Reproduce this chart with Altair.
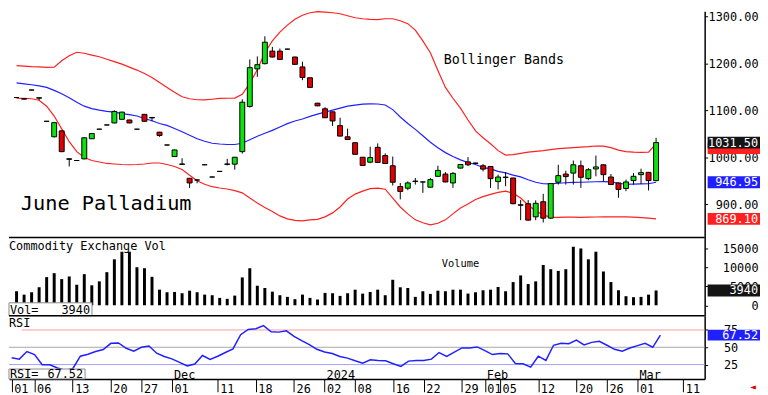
import altair as alt
import pandas as pd

# ---------------- data ----------------
opens = [1127.4, 1125.0, 1143.4, 1126.0, 1076.8, 1043.8, 1056.4, 997.0, 993.3, 996.8,
         1039.6, 1060.0, 1069.0, 1073.3, 1081.0, 1079.6, 1060.0, 1091.6, 1085.0, 1053.7,
         1026.3, 1001.7, 985.0, 955.4, 951.8, 984.2, 958.1, 970.1, 985.0, 985.5,
         1012.2, 1108.4, 1188.4, 1199.6, 1226.3, 1226.3, 1230.5, 1213.7, 1192.6, 1169.5,
         1115.4, 1103.4, 1097.0, 1067.6, 1043.8, 1031.2, 1000.2, 989.7, 1021.3, 1003.8,
         982.1, 937.9, 934.3, 948.5, 947.6, 936.4, 959.6, 964.4, 945.5, 977.1,
         990.3, 987.0, 982.1, 980.6, 948.4, 958.0, 956.0, 899.0, 901.3, 873.3,
         905.5, 870.5, 947.0, 964.4, 966.5, 982.1, 954.7, 975.4, 984.2, 958.1,
         945.5, 933.7, 950.5, 963.2, 968.0, 950.5]
highs = [1128.0, 1125.5, 1144.0, 1127.0, 1077.4, 1075.5, 1057.5, 997.5, 993.9, 1042.5,
         1051.5, 1060.6, 1069.6, 1100.0, 1097.0, 1080.2, 1060.6, 1092.2, 1085.4, 1054.3,
         1026.9, 1016.4, 998.1, 956.0, 952.8, 984.8, 958.7, 970.7, 996.8, 1001.0,
         1123.8, 1208.6, 1215.0, 1257.9, 1235.3, 1231.8, 1231.1, 1214.5, 1203.8, 1170.2,
         1116.0, 1106.9, 1097.6, 1084.4, 1061.3, 1031.8, 1000.8, 1022.7, 1029.7, 1008.6,
         1001.7, 945.5, 949.0, 956.0, 948.2, 956.0, 982.1, 968.6, 968.6, 985.4,
         1000.6, 988.5, 985.5, 981.2, 963.2, 968.6, 956.6, 909.1, 909.1, 908.4,
         922.3, 945.0, 984.2, 971.6, 993.3, 993.3, 977.1, 1003.8, 985.0, 964.4,
         946.5, 952.6, 966.5, 975.8, 969.0, 1041.7]
lows = [1126.8, 1123.5, 1142.8, 1121.7, 1076.2, 1042.5, 1011.0, 980.6, 992.7, 996.0,
        1039.0, 1059.4, 1068.4, 1072.5, 1080.4, 1072.7, 1059.4, 1076.2, 1076.8, 1043.8,
        1025.7, 1001.1, 984.5, 935.0, 944.8, 983.6, 957.5, 969.5, 982.7, 973.7,
        1008.0, 1106.0, 1171.6, 1198.0, 1212.5, 1207.5, 1229.9, 1197.5, 1164.4, 1148.4,
        1109.1, 1083.8, 1066.9, 1044.7, 1037.5, 1005.9, 982.1, 987.6, 988.5, 986.3,
        940.0, 910.5, 930.1, 942.1, 924.4, 935.8, 959.0, 947.0, 935.0, 976.5,
        981.3, 986.5, 970.1, 935.0, 931.6, 938.5, 900.0, 866.3, 864.9, 866.3,
        861.3, 869.1, 942.1, 942.1, 942.1, 935.0, 951.2, 959.6, 949.0, 941.0,
        913.9, 928.0, 942.1, 943.4, 929.5, 949.0]
closes = [1127.4, 1124.0, 1143.4, 1127.0, 1076.8, 1073.9, 1012.2, 995.8, 993.3, 1041.7,
          1050.7, 1060.0, 1069.0, 1097.9, 1096.4, 1073.3, 1060.0, 1076.8, 1084.0, 1046.5,
          1026.3, 1015.8, 986.0, 945.5, 951.8, 984.2, 958.1, 970.1, 986.0, 1000.2,
          1117.5, 1191.1, 1197.4, 1245.2, 1213.7, 1208.6, 1230.5, 1198.1, 1170.1, 1149.0,
          1109.7, 1084.4, 1077.5, 1045.3, 1038.1, 1006.5, 982.7, 999.6, 989.1, 986.9,
          947.0, 927.4, 945.5, 949.5, 947.6, 952.6, 972.2, 947.6, 965.9, 984.8,
          984.2, 988.0, 975.0, 954.7, 958.1, 957.0, 901.3, 898.0, 866.3, 902.1,
          870.5, 944.2, 961.1, 959.0, 984.2, 957.5, 973.7, 979.6, 963.2, 942.1,
          931.6, 947.6, 959.6, 967.4, 950.5, 1031.5]
upper = [1195.3, 1194.3, 1193.2, 1192.6, 1191.8, 1192.2, 1205.9, 1216.4, 1223.8, 1221.7,
         1217.9, 1214.3, 1209.0, 1203.8, 1198.5, 1192.2, 1185.9, 1178.5, 1170.1, 1159.6,
         1149.0, 1138.5, 1129.0, 1124.8, 1122.7, 1122.3, 1123.8, 1125.5, 1125.9, 1126.3,
         1134.3, 1157.5, 1186.9, 1222.7, 1248.0, 1266.9, 1281.6, 1294.3, 1302.7, 1308.0,
         1310.5, 1309.5, 1308.0, 1305.9, 1301.7, 1297.4, 1295.3, 1293.9, 1293.2, 1295.3,
         1295.3, 1291.1, 1284.8, 1271.1, 1248.0, 1222.7, 1184.8, 1149.0, 1125.9, 1104.8,
         1079.6, 1056.4, 1041.7, 1029.0, 1014.3, 1004.8, 1005.9, 1008.6, 1011.2, 1012.6,
         1014.3, 1016.4, 1018.5, 1019.6, 1020.6, 1021.7, 1022.7, 1024.2, 1023.8, 1020.6,
         1015.4, 1012.2, 1011.2, 1010.7, 1011.2, 1029.0]
middle = [1158.5, 1156.6, 1154.7, 1152.4, 1149.0, 1142.7, 1135.4, 1126.9, 1117.5, 1109.0,
          1103.8, 1100.6, 1097.9, 1096.4, 1093.3, 1091.1, 1088.0, 1082.7, 1077.9, 1072.2,
          1068.0, 1061.6, 1054.7, 1046.9, 1039.6, 1034.3, 1030.1, 1028.4, 1027.4, 1027.4,
          1030.1, 1037.5, 1044.8, 1051.2, 1057.5, 1064.8, 1071.8, 1077.5, 1081.7, 1087.4,
          1092.2, 1096.4, 1100.6, 1104.8, 1109.0, 1111.1, 1113.2, 1113.9, 1113.7, 1111.6,
          1101.7, 1085.9, 1072.2, 1059.6, 1045.9, 1032.2, 1020.6, 1010.1, 1001.7, 994.7,
          989.0, 984.8, 978.5, 975.4, 970.1, 967.0, 962.1, 958.5, 952.2, 947.0,
          943.8, 943.6, 944.8, 945.9, 946.6, 947.0, 947.5, 948.1, 948.5, 947.8,
          944.8, 942.7, 943.1, 943.6, 943.8, 946.95]
lower = [1125.9, 1125.5, 1124.8, 1121.7, 1109.0, 1088.0, 1060.6, 1033.3, 1012.2, 999.6,
         993.3, 990.1, 987.0, 985.9, 984.8, 984.2, 984.8, 985.9, 988.0, 988.0,
         984.8, 980.6, 974.3, 961.7, 950.1, 942.7, 937.5, 934.7, 932.6, 929.1,
         924.4, 913.3, 902.7, 893.3, 884.8, 875.3, 869.1, 865.9, 864.9, 866.9,
         868.0, 873.3, 881.7, 894.3, 911.2, 921.7, 928.0, 933.3, 934.3, 932.2,
         913.3, 894.3, 879.6, 866.9, 860.6, 856.4, 859.6, 866.9, 879.6, 892.2,
         900.6, 910.1, 916.4, 921.1, 925.3, 928.0, 923.8, 913.3, 898.5, 885.9,
         877.5, 872.2, 872.2, 872.6, 872.6, 872.2, 872.6, 872.9, 873.3, 873.3,
         873.3, 873.3, 872.6, 871.7, 870.5, 869.1]
volume = [3740, 2840, 3470, 4790, 7500, 8550, 6970, 7680, 5470, 8290,
          5320, 6370, 8820, 12240, 14260, 14260, 10130, 9870, 7580, 4160,
          3470, 3550, 3210, 3890, 3470, 2840, 2680, 1970, 1710, 2580,
          7420, 9870, 5210, 4610, 3630, 2680, 2240, 1630, 2840, 1970,
          1530, 3290, 3210, 2500, 3210, 4160, 3110, 3550, 4160, 2680,
          6790, 4790, 4610, 2240, 3740, 3030, 3890, 3740, 4160, 4160,
          3110, 3470, 4000, 4160, 4870, 3740, 6180, 7950, 5660, 6370,
          10740, 9610, 9160, 9610, 15580, 15130, 12240, 14260, 9000, 6180,
          4000, 2420, 2160, 2240, 2840, 3940]
rsi = [34.8, 32.9, 43.8, 39.5, 24.7, 24.7, 20.0, 17.0, 19.0, 37.1,
       40.0, 43.8, 46.7, 55.7, 56.2, 48.6, 44.3, 50.0, 51.9, 41.4,
       36.7, 33.3, 28.1, 22.9, 25.7, 38.1, 32.4, 37.1, 42.4, 47.6,
       68.1, 75.7, 76.7, 81.4, 72.4, 71.9, 73.8, 65.7, 59.5, 53.8,
       47.1, 43.3, 41.0, 36.7, 34.3, 30.5, 27.1, 31.9, 31.0, 30.5,
       26.2, 22.4, 30.0, 31.0, 31.0, 32.9, 42.4, 36.7, 42.9, 49.0,
       49.0, 50.5, 45.2, 39.5, 41.0, 40.5, 26.7, 26.2, 21.4, 37.1,
       31.0, 52.9, 55.7, 55.2, 60.5, 53.3, 57.1, 58.6, 52.9, 47.1,
       44.3, 49.0, 52.4, 55.7, 50.0, 67.52]

tick_idx = [0, 3, 8, 13, 17, 21, 27, 32, 37, 41, 45, 50, 54, 59, 62, 64, 69, 74, 78, 82, 88]
tick_lab = ["01", "06", "13", "20", "27", "01", "11", "18", "26", "02", "08",
            "16", "22", "29", "01", "05", "12", "20", "26", "01", "11"]
month_idx = [21, 41, 62, 82]
month_lab = ["Dec", "2024", "Feb", "Mar"]

# ---------------- layout / style ----------------
W = 704
H_MAIN, H_VOL, H_RSI = 229, 79, 64
X_DOM = [-0.35, 90.8]
P_DOM = [829.1, 1311.1]
V_DOM = [-2763, 18026]
R_DOM = [4.3, 95.7]
FONT = "DejaVu Sans Mono"
GREEN, RED_C, BAND_RED, BAND_BLUE = "#10e010", "#e00000", "#ff2020", "#2020ff"
BOX_X0, BOX_X1, BOX_TX = 707, 760, 758

n = len(closes)
df = pd.DataFrame({"i": list(range(n)), "open": opens, "high": highs, "low": lows,
                   "close": closes, "upper": upper, "middle": middle, "lower": lower,
                   "vol": volume, "rsi": rsi})
df["dir"] = ["up" if c > o else ("down" if c < o else "flat") for o, c in zip(opens, closes)]

one = pd.DataFrame({"a": [0]})
xs = alt.Scale(domain=X_DOM, nice=False, zero=False)
x_na = alt.X("i:Q", scale=xs, axis=None)


def yaxis(values, fmt, align, pad):
    return alt.Axis(orient="right", values=values, format=fmt, title=None,
                    labelFont=FONT, labelFontSize=12, labelColor="black",
                    labelAlign=align, labelPadding=pad, labelBaseline="middle",
                    tickSize=3, tickColor="black", domainColor="black",
                    domainWidth=1.5, grid=False, labelOverlap=False, labelFlush=False)


main_axis = yaxis([900, 1000, 1100, 1200, 1300], ".2f", "right", 51)
vol_axis = yaxis([0, 5000, 10000, 15000], "d", "right", 51)
rsi_axis = yaxis([25, 50, 75], "d", "left", 16)

p_scale = alt.Scale(domain=P_DOM, nice=False, zero=False)
v_scale = alt.Scale(domain=V_DOM, nice=False, zero=False)
r_scale = alt.Scale(domain=R_DOM, nice=False, zero=False)


def PY(f):
    return alt.Y(f"{f}:Q", scale=p_scale, axis=main_axis)


def VY(f):
    return alt.Y(f"{f}:Q", scale=v_scale, axis=vol_axis)


def RY(f):
    return alt.Y(f"{f}:Q", scale=r_scale, axis=rsi_axis)


def label_text(txt, x, y, size=12, align="left", color="black"):
    return alt.Chart(one).mark_text(align=align, baseline="middle", font=FONT,
                                    fontSize=size, color=color).encode(
        x=alt.value(x), y=alt.value(y), text=alt.value(txt))


def hrule(y, color="black", w=1.5, x0=0, x1=W):
    return alt.Chart(one).mark_rule(color=color, strokeWidth=w).encode(
        x=alt.value(x0), x2=alt.value(x1), y=alt.value(y))


# ---------------- main price panel ----------------
base = alt.Chart(df)
bands = [base.mark_line(color=c, strokeWidth=1.2).encode(x=x_na, y=PY(f))
         for f, c in [("upper", BAND_RED), ("lower", BAND_RED), ("middle", BAND_BLUE)]]
wicks = base.mark_rule(color="black", strokeWidth=1).encode(x=x_na, y=PY("low"), y2="high:Q")
bodies = base.mark_bar(size=5, stroke="black", strokeWidth=1).encode(
    x=x_na, y=PY("open"), y2="close:Q",
    color=alt.Color("dir:N", scale=alt.Scale(domain=["up", "down", "flat"],
                                             range=[GREEN, RED_C, "black"]), legend=None))

ppu_main = H_MAIN / (P_DOM[1] - P_DOM[0])
half_m = 6 / ppu_main
strip = pd.DataFrame({"y1": [upper[-1] + 1 / ppu_main], "y2": [upper[-1] - 10.5 / ppu_main]})
strip_rect = alt.Chart(strip).mark_rect(color=BAND_RED).encode(
    x=alt.value(BOX_X0), x2=alt.value(BOX_X1), y=PY("y1"), y2="y2:Q")
mbox = pd.DataFrame({"v": [closes[-1], middle[-1], lower[-1]],
                     "fill": ["#141414", BAND_BLUE, BAND_RED]})
mbox["lab"] = [f"{v:.2f}" for v in mbox["v"]]
mbox["y1"] = mbox["v"] + half_m
mbox["y2"] = mbox["v"] - half_m
mbox_rect = alt.Chart(mbox).mark_rect().encode(
    x=alt.value(BOX_X0), x2=alt.value(BOX_X1), y=PY("y1"), y2="y2:Q",
    color=alt.Color("fill:N", scale=None))
mbox_text = alt.Chart(mbox).mark_text(align="right", baseline="middle", font=FONT,
                                      fontSize=12, color="white").encode(
    x=alt.value(BOX_TX), y=PY("v"), text="lab:N")

main = alt.layer(
    *bands, wicks, bodies, strip_rect, mbox_rect, mbox_text,
    label_text("Bollinger Bands", 440, 49, 13.5),
    label_text("June Palladium", 12, 195, 20.5),
    hrule(H_MAIN),
).properties(width=W, height=H_MAIN)

# ---------------- volume panel ----------------
ppu_vol = H_VOL / (V_DOM[1] - V_DOM[0])
vbars = base.mark_bar(size=3, color="black").encode(x=x_na, y=VY("vol"), y2=alt.datum(0))
vb = pd.DataFrame({"v": [volume[-1]], "lab": [str(volume[-1])]})
vb["y1"] = vb["v"] + 6 / ppu_vol
vb["y2"] = vb["v"] - 6 / ppu_vol
vb_rect = alt.Chart(vb).mark_rect(color="#141414").encode(
    x=alt.value(BOX_X0), x2=alt.value(BOX_X1), y=VY("y1"), y2="y2:Q")
vb_text = alt.Chart(vb).mark_text(align="right", baseline="middle", font=FONT,
                                  fontSize=12, color="white").encode(
    x=alt.value(BOX_TX), y=VY("v"), text="lab:N")
vol_box = alt.Chart(one).mark_rect(fill="white", stroke="#8a8a8a", strokeWidth=1).encode(
    x=alt.value(0), x2=alt.value(84), y=alt.value(66), y2=alt.value(79))
vol_box_v = alt.Chart(vb).mark_text(align="right", baseline="middle", font=FONT,
                                    fontSize=12, color="black").encode(
    x=alt.value(82), y=alt.value(73), text="lab:N")

vol = alt.layer(
    vbars, vb_rect, vb_text,
    label_text("Commodity Exchange Vol", 0, 9),
    label_text("Volume", 438, 27, 10.5),
    vol_box, label_text("Vol=", 1, 73), vol_box_v,
    hrule(H_VOL),
).properties(width=W, height=H_VOL)

# ---------------- RSI panel ----------------
expr = " : ".join(f"datum.value == {i} ? '{l}'" for i, l in zip(tick_idx, tick_lab)) + " : ''"
date_axis = alt.Axis(orient="bottom", values=tick_idx, labelExpr=expr, title=None,
                     tickSize=13, tickColor="black", tickWidth=1,
                     domainColor="black", domainWidth=1.5,
                     labelAlign="left", labelBaseline="middle", labelPadding=-3,
                     labelOffset=2, labelFont=FONT, labelFontSize=12,
                     labelColor="black", grid=False, labelOverlap=False, labelFlush=False)
x_d = alt.X("i:Q", scale=xs, axis=date_axis)

ppu_rsi = H_RSI / (R_DOM[1] - R_DOM[0])
lvl = [alt.Chart(one).mark_rule(color=c, strokeWidth=1).encode(
    y=alt.Y("lv:Q", scale=r_scale, axis=rsi_axis),
    x=alt.value(x0), x2=alt.value(W)).transform_calculate(lv=str(v))
    for v, c, x0 in [(75, "#ff9c9c", 13), (50, "#a8a8a8", 0), (25, "#a0a0ff", 0)]]
rline = base.mark_line(color=BAND_BLUE, strokeWidth=1.5).encode(x=x_d, y=RY("rsi"))
months = pd.DataFrame({"i": month_idx, "lab": month_lab})
mtext = alt.Chart(months).mark_text(align="left", baseline="middle", font=FONT,
                                    fontSize=12, dx=2, color="black").encode(
    x=x_d, y=alt.value(60), text="lab:N")
rb = pd.DataFrame({"v": [rsi[-1]], "lab": [f"{rsi[-1]:.2f}"]})
rb["y1"] = rb["v"] + 5.5 / ppu_rsi
rb["y2"] = rb["v"] - 5.5 / ppu_rsi
rb_rect = alt.Chart(rb).mark_rect(color=BAND_BLUE).encode(
    x=alt.value(BOX_X0), x2=alt.value(BOX_X1), y=RY("y1"), y2="y2:Q")
rb_text = alt.Chart(rb).mark_text(align="right", baseline="middle", font=FONT,
                                  fontSize=12, color="white").encode(
    x=alt.value(BOX_TX), y=RY("v"), text="lab:N")
rsi_box = alt.Chart(one).mark_rect(fill="white", stroke="#8a8a8a", strokeWidth=1).encode(
    x=alt.value(0), x2=alt.value(77), y=alt.value(54), y2=alt.value(64))
rsi_box_v = alt.Chart(rb).mark_text(align="right", baseline="middle", font=FONT,
                                    fontSize=12, color="black").encode(
    x=alt.value(75), y=alt.value(59.5), text="lab:N")

rsi_panel = alt.layer(
    *lvl, rline, mtext, rb_rect, rb_text,
    label_text("RSI", 0, 7.5),
    rsi_box, label_text("RSI=", 1, 59.5), rsi_box_v,
    label_text("\u25c4", 753, 72, 10, "center", "#e00000"),
).properties(width=W, height=H_RSI)

chart = alt.vconcat(main, vol, rsi_panel, spacing=0, bounds="flush",
                    padding={"top": -2, "left": 0, "right": 0, "bottom": 2}
                    ).configure_view(stroke=None)

chart.save("out.html", embed_options={"renderer": "svg", "actions": False})
